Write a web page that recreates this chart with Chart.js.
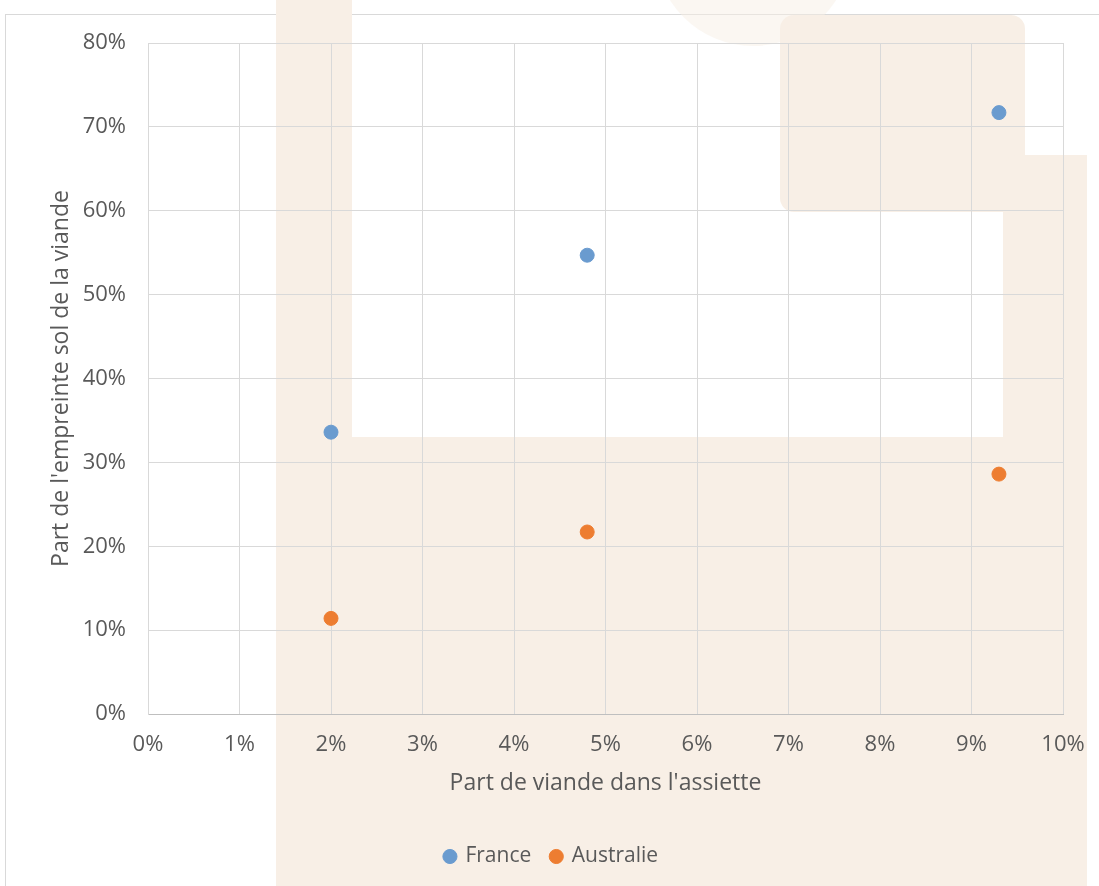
<!DOCTYPE html>
<html>
<head>
<meta charset="utf-8">
<script src="https://cdn.jsdelivr.net/npm/chart.js@4"></script>
<style>
  html, body { margin: 0; padding: 0; background: #fff; }
  #wrap { position: relative; width: 1099px; height: 886px; overflow: hidden; }
  .frame { position: absolute; left: 5px; top: 14px; width: 1200px; height: 1000px; border: 1px solid #d9d9d9; }
  .wm { position: absolute; background: #f8efe6; }
  canvas { position: absolute; left: 0; top: 0; }
</style>
</head>
<body>
<div id="wrap">
  <div class="frame"></div>
  <!-- faint watermark behind the chart -->
  <div class="wm" style="left:655px; top:-150px; width:196px; height:196px; border-radius:50%; opacity:0.5;"></div>
  <div class="wm" style="left:276px; top:0; width:76px; height:886px;"></div>
  <div class="wm" style="left:276px; top:437px; width:811px; height:449px;"></div>
  <div class="wm" style="left:780px; top:15px; width:245px; height:197px; border-radius:14px;"></div>
  <div class="wm" style="left:1003px; top:155px; width:84px; height:290px; border-radius:14px 0 0 0;"></div>
  <canvas id="chart" width="1099" height="886"></canvas>
</div>
<script>
const seriesNames = ['France', 'Australie'];
const meatShare = [2, 4.8, 9.3];
const franceFootprint = [33.6, 54.7, 71.7];
const australiaFootprint = [11.4, 21.7, 28.6];
const colors = ['#6a9bcf', '#ed7d31'];

const font = "'Open Sans', sans-serif";
const textColor = '#595959';

function points(ys) {
    return meatShare.map((x, i) => ({ x: x, y: ys[i] }));
}

const ctx = document.getElementById('chart').getContext('2d');
new Chart(ctx, {
    type: 'scatter',
    data: {
        datasets: [
            { label: seriesNames[0], data: points(franceFootprint), backgroundColor: colors[0], borderColor: colors[0], pointRadius: 7, pointHoverRadius: 7 },
            { label: seriesNames[1], data: points(australiaFootprint), backgroundColor: colors[1], borderColor: colors[1], pointRadius: 7, pointHoverRadius: 7 }
        ]
    },
    options: {
        responsive: false,
        animation: false,
        layout: { padding: { left: 40, top: 43, right: 36, bottom: 9 } },
        plugins: {
            tooltip: { enabled: false },
            legend: {
                position: 'bottom',
                labels: {
                    usePointStyle: true,
                    pointStyle: 'circle',
                    boxWidth: 10,
                    boxHeight: 10,
                    padding: 20,
                    color: textColor,
                    font: { family: font, size: 21 }
                }
            }
        },
        scales: {
            x: {
                type: 'linear',
                min: 0,
                max: 10,
                ticks: { stepSize: 1, padding: 18, color: textColor, font: { family: font, size: 22 }, callback: v => v + '%' },
                grid: { color: '#d9d9d9', drawTicks: false },
                border: { color: '#bfbfbf' },
                title: { display: true, text: "Part de viande dans l'assiette", color: textColor, font: { family: font, size: 23 }, padding: { top: 4, bottom: 29 } },
                afterFit: s => { s.height = 112; s.paddingRight = 0; s.paddingLeft = 0; }
            },
            y: {
                type: 'linear',
                min: 0,
                max: 80,
                ticks: { stepSize: 10, padding: 22, color: textColor, font: { family: font, size: 22 }, callback: v => v + '%' },
                grid: { color: '#d9d9d9', drawTicks: false },
                border: { color: '#d9d9d9' },
                title: { display: true, text: "Part de l'empreinte sol de la viande", color: textColor, font: { family: font, size: 23 }, padding: { top: 8 } },
                afterFit: s => { s.width = 108; }
            }
        }
    }
});
</script>
</body>
</html>
